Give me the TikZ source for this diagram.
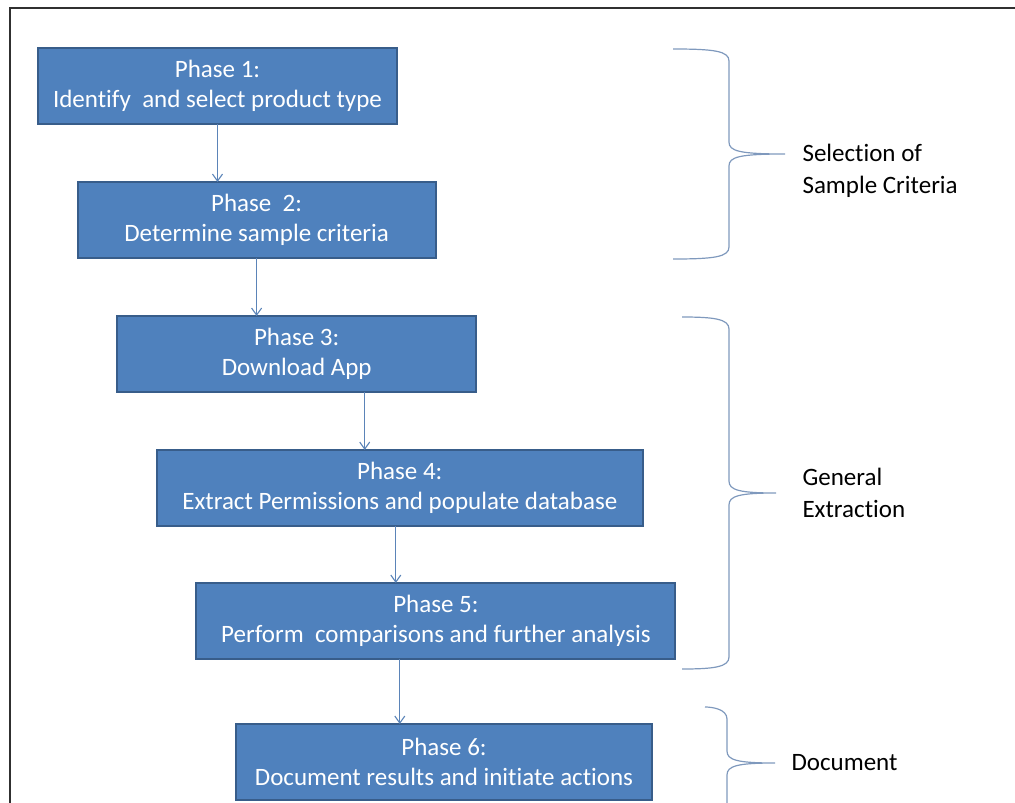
\documentclass[tikz,border=0pt]{standalone}
\usepackage{fontspec}
\setmainfont{Carlito}[Ligatures={NoCommon}]
\usepackage{tikz}
\usetikzlibrary{positioning}
\usetikzlibrary{arrows.meta}

\definecolor{phasefill}{HTML}{4F81BD}
\definecolor{phaseedge}{HTML}{385D8A}
\definecolor{linkblue}{HTML}{5B84B8}
\definecolor{bracegray}{HTML}{7F99BD}
\definecolor{framegray}{HTML}{303030}

\begin{document}
\begin{tikzpicture}[x=1pt, y=-1pt,
    phase/.style = {draw=phaseedge, line width=2pt, fill=phasefill, text=white,
        minimum height=76pt, inner sep=2pt, outer sep=0pt, align=center,
        font=\fontsize{25}{30}\selectfont},
    flow/.style = {draw=linkblue, line width=1.1pt, -{Straight Barb[length=7pt,width=10pt]}},
    side/.style = {anchor=west, align=left, font=\fontsize{25}{32}\selectfont}]
    \useasboundingbox (0,0) rectangle (1015,803);
    \draw[framegray, line width=2pt] (1015,8) -- (10,8) -- (10,803);

    \node[phase, minimum width=359pt] (p1) at (217.5,86) {Phase 1:\\Identify~ and select product type};
    \node[phase, minimum width=358pt, below=58pt of p1.south west, anchor=north west, xshift=39.6pt] (p2) {Phase~ 2:\\Determine sample criteria};
    \node[phase, minimum width=359pt, below=58pt of p2.south west, anchor=north west, xshift=39.6pt] (p3) {Phase 3:\\Download App};
    \node[phase, minimum width=486pt, below=58pt of p3.south west, anchor=north west, xshift=39.6pt] (p4) {Phase 4:\\Extract Permissions and populate database};
    \node[phase, minimum width=479pt, below=57pt of p4.south west, anchor=north west, xshift=39.6pt] (p5) {Phase 5:\\Perform~ comparisons and further analysis};
    \node[phase, minimum width=416pt, below=65pt of p5.south west, anchor=north west, xshift=39.6pt] (p6) {Phase 6:\\Document results and initiate actions};

    \draw[flow] (p1.south) -- (p1.south |- p2.north);
    \draw[flow] (p2.south) -- (p2.south |- p3.north);
    \draw[flow] ([xshift=68pt]p3.south) -- ([xshift=68pt]p3.south |- p4.north);
    \draw[flow] ([xshift=-4pt]p4.south) -- ([xshift=-4pt]p4.south |- p5.north);
    \draw[flow] (p5.south -| p4.south) -- (p4.south |- p6.north);

    % curly braces on the right
    \foreach \xl/\xv/\xt/\yt/\ym/\yb in {673/729/785/49/154/259, 682/729/776/317/493/669, 705/727/775/707/763/819}
        \draw[bracegray, line width=1.2pt] (\xl,\yt) .. controls ({\xv-15},\yt) and (\xv,{\yt+2}) .. (\xv,{\yt+12})
            -- (\xv,{\ym-12}) .. controls (\xv,{\ym-3}) and ({\xv+10},\ym) .. (\xt,\ym)
            .. controls ({\xv+10},\ym) and (\xv,{\ym+3}) .. (\xv,{\ym+12})
            -- (\xv,{\yb-12}) .. controls (\xv,{\yb-2}) and ({\xv-15},\yb) .. (\xl,\yb);

    \node[side] (sel) at (799,171) {Selection of\\Sample Criteria};
    \node[side] (gen) at (799,492.5) {General\\Extraction};
    \node[side] (doc) at (788,763) {Document};
\end{tikzpicture}
\end{document}
